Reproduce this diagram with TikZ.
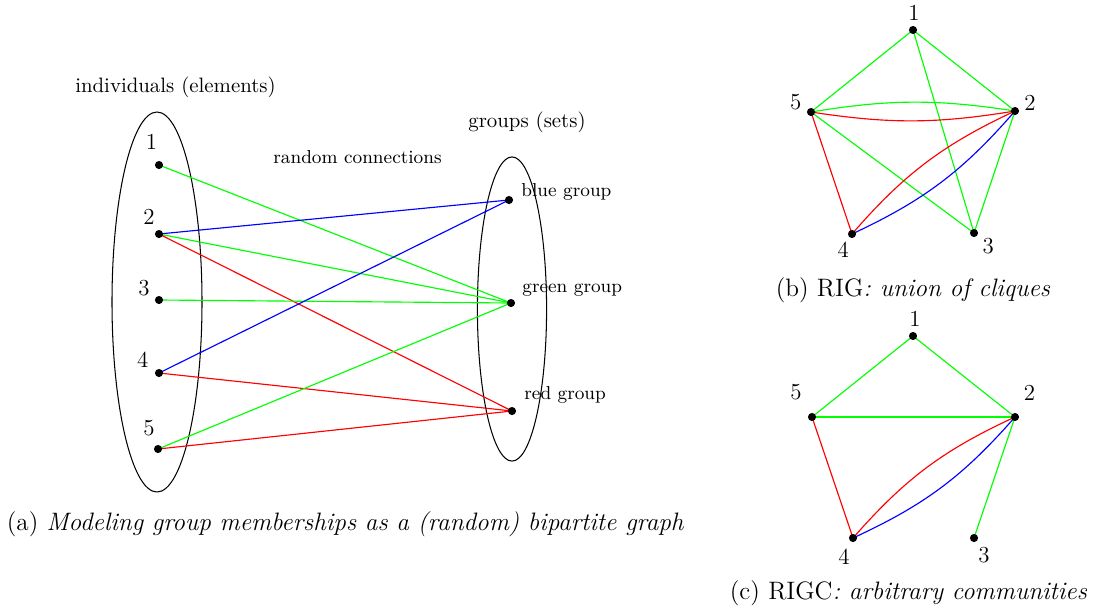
\documentclass[tikz,border=0pt]{standalone}
\definecolor{lgreen}{RGB}{0,255,0}
\definecolor{lred}{RGB}{255,0,0}
\definecolor{lblue}{RGB}{0,0,255}
\begin{document}
\begin{tikzpicture}[x=0.48pt,y=-0.48pt,
  dot/.style={circle,fill=black,inner sep=0pt,minimum size=3.9pt},
  num/.style={font=\fontsize{11}{13}\selectfont,inner sep=0pt},
  grp/.style={font=\fontsize{9}{11}\selectfont,inner sep=0pt,anchor=base west},
  ttl/.style={font=\fontsize{10}{12}\selectfont,inner sep=0pt},
  captxt/.style={font=\fontsize{12.1}{14}\selectfont,inner sep=0pt},
  ed/.style={line width=0.55pt},
  G/.style={ed,draw=lgreen},
  R/.style={ed,draw=lred},
  B/.style={ed,draw=lblue}]
\useasboundingbox (0,0) rectangle (1096,607);
% ---------- panel (a)
\coordinate (l1) at (159,165);
\coordinate (l2) at (159,234);
\coordinate (l3) at (159,300);
\coordinate (l4) at (159,373);
\coordinate (l5) at (158,449);
\coordinate (gb) at (509,200);
\coordinate (gg) at (511,303);
\coordinate (gr) at (512,411);
\draw[line width=0.5pt] (157,302) ellipse [x radius=21.6pt, y radius=91.2pt];
\draw[line width=0.5pt] (512,309) ellipse [x radius=16.6pt, y radius=73pt];
\draw[G] (l1) -- (gg);
\draw[B] (l2) -- (gb);
\draw[G] (l2) -- (gg);
\draw[R] (l2) -- (gr);
\draw[G] (l3) -- (gg);
\draw[B] (l4) -- (gb);
\draw[R] (l4) -- (gr);
\draw[G] (l5) -- (gg);
\draw[R] (l5) -- (gr);
\foreach \p in {l1,l2,l3,l4,l5,gb,gg,gr} \node[dot] (d\p) at (\p) {};
\node[num] (t1) at (151.5,141.7) {1};
\node[num] (t2) at (149,216.7) {2};
\node[num] (t3) at (144,288) {3};
\node[num] (t4) at (142.7,360) {4};
\node[num] (t5) at (149,428) {5};
\node[grp] (nb) at (521,196.7) {blue group};
\node[grp] (ng) at (522,292.7) {green group};
\node[grp] (nr) at (524,399.3) {red group};
\node[ttl] (ind) at (175.5,87) {individuals (elements)};
\node[ttl] (sets) at (527,122) {groups (sets)};
\node[grp,anchor=base] (rc) at (357.5,163) {random connections};
\node[captxt] (capa) at (345.5,524) {(a) \textit{Modeling group memberships as a (random) bipartite graph}};
% ---------- panel (b)
\coordinate (b1) at (913,30);
\coordinate (b2) at (1015,111);
\coordinate (b3) at (974,233);
\coordinate (b4) at (852,234);
\coordinate (b5) at (811,112);
\draw[G] (b1) -- (b5);
\draw[G] (b1) -- (b2);
\draw[G] (b1) -- (b3);
\draw[G] (b5) to[bend left=9] (b2);
\draw[R] (b5) to[bend right=9] (b2);
\draw[G] (b5) -- (b3);
\draw[R] (b5) -- (b4);
\draw[R] (b4) to[bend left=12] (b2);
\draw[B] (b4) to[bend right=12] (b2);
\draw[G] (b2) -- (b3);
\foreach \p in {b1,b2,b3,b4,b5} \node[dot] (d\p) at (\p) {};
\node[num] (u1) at (914,13.3) {1};
\node[num] (u2) at (1030,102.5) {2};
\node[num] (u3) at (988.3,245.8) {3};
\node[num] (u4) at (843.3,250) {4};
\node[num] (u5) at (795.7,101.7) {5};
\node[captxt] (capb) at (913,290) {(b) RIG\textit{: union of cliques}};
% ---------- panel (c)
\coordinate (c1) at (913,336);
\coordinate (c2) at (1015,417);
\coordinate (c3) at (974,538);
\coordinate (c4) at (853,538);
\coordinate (c5) at (812,417);
\draw[G] (c1) -- (c5);
\draw[G] (c1) -- (c2);
\draw[G] (c5) -- (c2);
\draw[R] (c5) -- (c4);
\draw[R] (c4) to[bend left=12] (c2);
\draw[B] (c4) to[bend right=12] (c2);
\draw[G] (c2) -- (c3);
\foreach \p in {c1,c2,c3,c4,c5} \node[dot] (d\p) at (\p) {};
\node[num] (v1) at (915,318.7) {1};
\node[num] (v2) at (1029.5,393) {2};
\node[num] (v3) at (984,555) {3};
\node[num] (v4) at (844,556.7) {4};
\node[num] (v5) at (796,392.5) {5};
\node[captxt] (capc) at (908.5,593) {(c) RIGC\textit{: arbitrary communities}};
\end{tikzpicture}
\end{document}
